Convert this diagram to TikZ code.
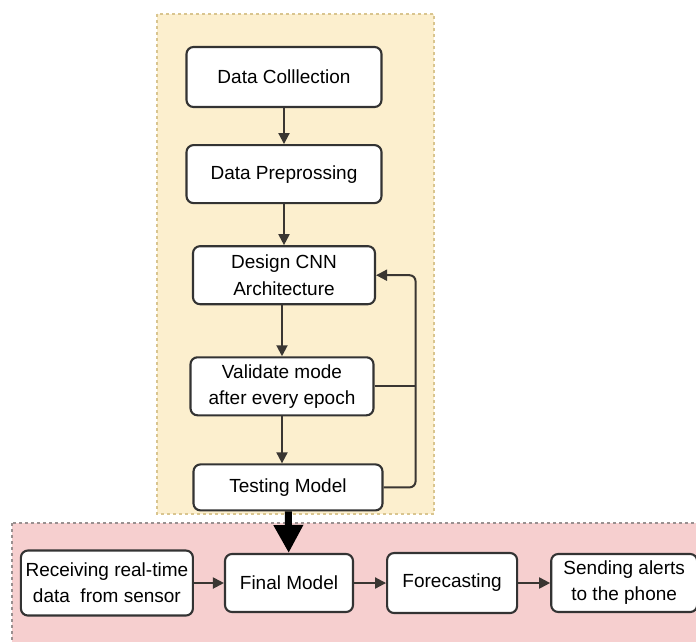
\documentclass[tikz,border=0pt]{standalone}
\usepackage{fontspec}
\setmainfont{Liberation Sans}
\usepackage{tikz}
\usetikzlibrary{positioning, arrows.meta}

\definecolor{trainbg}{HTML}{FCEFCE}
\definecolor{trainedge}{HTML}{D9C58F}
\definecolor{deploybg}{HTML}{F6CFCF}
\definecolor{deployedge}{HTML}{9A9090}
\definecolor{boxline}{HTML}{333333}
\definecolor{arrline}{HTML}{3A3632}

\begin{document}
\begin{tikzpicture}[
    x=1pt, y=-1pt,
    font=\fontsize{19}{26}\selectfont,
    box/.style={draw=boxline, line width=2.1pt, rounded corners=7pt, fill=white, align=center, minimum height=58pt, inner sep=2pt},
    arr/.style={-{Triangle[length=11pt, width=11pt]}, line width=2pt, draw=arrline},
    bigarr/.style={-{Triangle[length=28pt, width=28pt]}, line width=7pt, draw=black},
    region/.style={line width=1.3pt, dash pattern=on 3pt off 3pt}
  ]
    \useasboundingbox (0,0) rectangle (696,641);
    \clip (0,0) rectangle (696,641);

    % training and deployment regions
    \draw[region, fill=trainbg, draw=trainedge] (157,14) rectangle (434,514);
    \draw[region, fill=deploybg, draw=deployedge] (12,523) rectangle (720,660);

    % training pipeline
    \node[box, minimum width=195pt, minimum height=60pt] (collect) at (284,77) {Data Colllection};
    \node[box, minimum width=195pt, below=36pt of collect] (prep) {Data Preprossing};
    \node[box, minimum width=182pt, below=41pt of prep] (design) {Design CNN\\Architecture};
    \node[box, minimum width=183pt, below=51pt of design, xshift=-2pt] (validate) {Validate mode\\after every epoch};
    \node[box, minimum width=189pt, minimum height=46pt, below=47pt of validate, xshift=6pt] (testing) {Testing Model};

    % deployment pipeline
    \node[box, minimum width=128pt] (final) at (289,583) {Final Model};
    \node[box, minimum width=172pt, minimum height=65pt, left=30pt of final] (receive) {Receiving real-time\\data~ from sensor};
    \node[box, minimum width=130pt, minimum height=60pt, right=32pt of final] (forecast) {Forecasting};
    \node[box, minimum width=146pt, right=32pt of forecast] (alert) {Sending alerts\\to the phone};

    \coordinate[right=32pt of testing.east] (back);

    \draw[arr] (collect)--(prep);
    \draw[arr] (prep)--(design);
    \draw[arr] (design.south -| validate)--(validate);
    \draw[arr] (validate)--(validate |- testing.north);
    \draw[arr, rounded corners=6pt] (testing.east)--(back) |- (design.east);
    \draw[arr, -, rounded corners=6pt] (validate.east)--(validate.east -| back);
    \draw[bigarr] (testing)--(final);
    \draw[arr] (receive)--(final);
    \draw[arr] (final)--(forecast);
    \draw[arr] (forecast)--(alert);
  \end{tikzpicture}
\end{document}
